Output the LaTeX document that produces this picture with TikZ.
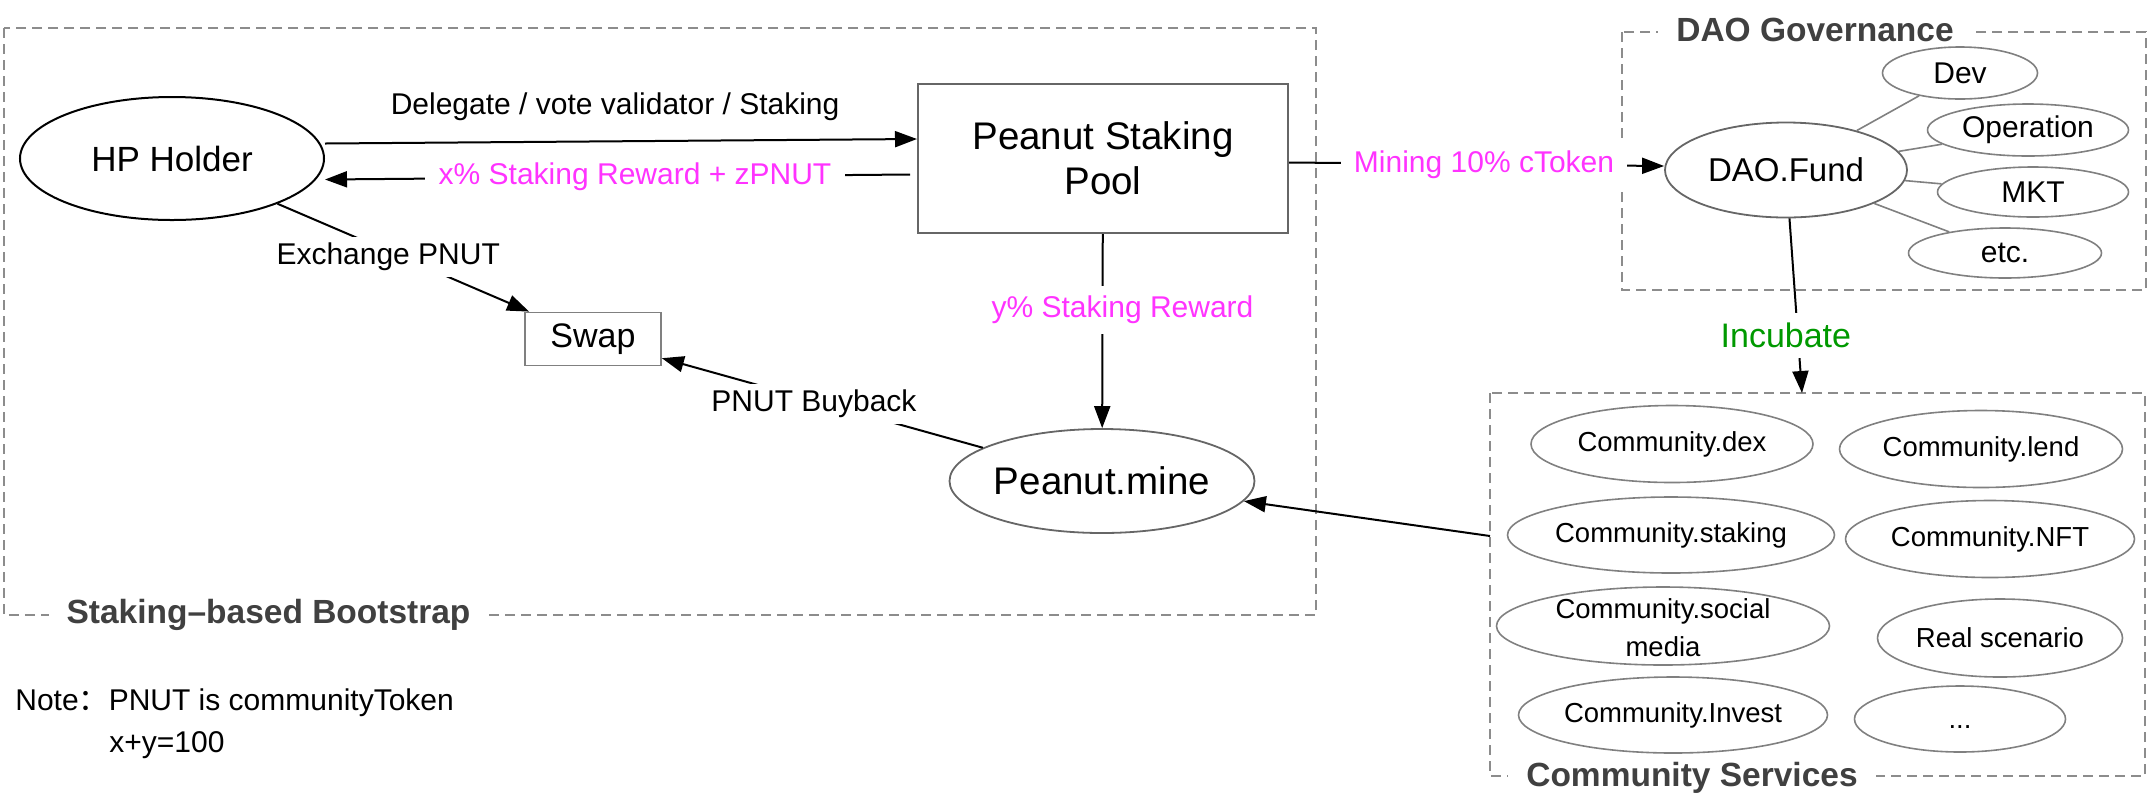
\documentclass[tikz,border=0pt]{standalone}
\usepackage{fontspec}
\setmainfont{Liberation Sans}
\newfontfamily\cjkfont{Noto Sans CJK SC}
\usetikzlibrary{arrows.meta,calc,shapes.geometric}
\definecolor{mag}{HTML}{FF33FF}
\definecolor{grn}{HTML}{009900}
\definecolor{frm}{HTML}{8C8C8C}
\definecolor{ttl}{HTML}{404040}
\definecolor{edg}{HTML}{666666}
\definecolor{lgr}{HTML}{808080}
\newcommand{\zw}[1]{\makebox[0pt]{#1}}
\begin{document}
\begin{tikzpicture}[x=0.5pt,y=-0.5pt,
  arr/.style={draw=black, line width=1pt, -{Triangle[length=11pt,width=8pt]}},
  lbl/.style={font=\fontsize{15}{18}\selectfont, fill=white, inner xsep=7pt, inner ysep=4pt},
  frame/.style={draw=frm, line width=1pt, dash pattern=on 5pt off 3pt},
  gtitle/.style={font=\bfseries\fontsize{16.75}{20}\selectfont, text=ttl, fill=white, inner xsep=9pt, inner ysep=1pt},
  bigell/.style={ellipse, draw=black, line width=1pt, inner sep=0pt},
  mell/.style={ellipse, draw=edg, line width=0.9pt, inner sep=0pt},
  sell/.style={ellipse, draw=lgr, line width=0.8pt, inner sep=0pt, font=\fontsize{15}{18}\selectfont},
  cell/.style={ellipse, draw=lgr, line width=0.8pt, inner sep=0pt, font=\fontsize{13.75}{19}\selectfont},
  gline/.style={draw=lgr, line width=0.8pt},
  notetxt/.style={font=\fontsize{15}{18}\selectfont, inner sep=0pt, anchor=west}
]
\useasboundingbox (0,0) rectangle (2148,805);

% frames
\draw[frame] (4,28) rectangle (1316,615);
\draw[frame] (1622,32) rectangle (2146,290);
\draw[frame] (1490,393) rectangle (2145,776);
\node[gtitle] (tboot) at (268.5,615) {Staking–based Bootstrap};
\node[gtitle] (tdao) at (1815,30) {DAO Governance};
\node[gtitle] (tcomm) at (1692,778) {Community Services};
\coordinate (commtop) at (1802,393);
\coordinate (commleft) at (1490,536);

% main nodes
\node[bigell, minimum width=152pt, minimum height=61.5pt, font=\fontsize{17.5}{21}\selectfont] (hp) at (172,158.5) {\zw{HP Holder}};
\node[draw=edg, line width=1pt, minimum width=185pt, minimum height=74.5pt, align=center, font=\fontsize{19.25}{22.5}\selectfont] (pool) at (1103,158.5) {Peanut Staking\\Pool};
\node[draw=lgr, line width=0.9pt, minimum width=68pt, minimum height=26.5pt, font=\fontsize{17}{20}\selectfont] (swap) at (593,339) {Swap};
\node[mell, minimum width=152.5pt, minimum height=52pt, font=\fontsize{19.25}{22}\selectfont] (mine) at (1102,481) {\zw{Peanut.mine}};
\node[mell, minimum width=121pt, minimum height=47.5pt, font=\fontsize{16.5}{20}\selectfont] (fund) at (1786,170) {\zw{DAO.Fund}};

% DAO children
\node[sell, minimum width=77.5pt, minimum height=26pt] (dev) at (1960,73) {\zw{Dev}};
\node[sell, minimum width=100.5pt, minimum height=26pt] (oper) at (2028,130) {\zw{Operation}};
\node[sell, minimum width=95.5pt, minimum height=25pt] (mkt) at (2033,192) {\zw{MKT}};
\node[sell, minimum width=96.5pt, minimum height=25pt] (etc) at (2005,253) {\zw{etc.}};
\draw[gline] (fund) -- (dev);
\draw[gline] (fund) -- (oper);
\draw[gline] (fund) -- (mkt);
\draw[gline] (fund) -- (etc);

% community services
\node[cell, minimum width=141pt, minimum height=38.5pt] (cdex) at (1672,444) {\zw{Community.dex}};
\node[cell, minimum width=141.5pt, minimum height=38.5pt] (clend) at (1981,449) {\zw{Community.lend}};
\node[cell, minimum width=163.5pt, minimum height=38pt] (cstak) at (1671,535) {\zw{Community.staking}};
\node[cell, minimum width=144.5pt, minimum height=38.5pt] (cnft) at (1990,539) {\zw{Community.NFT}};
\node[cell, minimum width=166.5pt, minimum height=39pt] (csoc) at (1663,626) {};
\node[align=center, inner sep=0pt, font=\fontsize{13.75}{19}\selectfont] (csoctxt) at (1663,628) {Community.social\\media};
\node[cell, minimum width=122.5pt, minimum height=39pt] (creal) at (2000,638) {\zw{Real scenario}};
\node[cell, minimum width=154.5pt, minimum height=38pt] (cinv) at (1673,715) {\zw{Community.Invest}};
\node[cell, minimum width=105.5pt, minimum height=33pt] (cdots) at (1960,719) {\zw{\raisebox{0pt}[0.72em][0pt]{...}}};

% connectors
\draw[arr] ($(hp.east)+(0,-15)$) -- ($(pool.west)+(0,-19.5)$)
  node[pos=0.49, yshift=17.5pt, font=\fontsize{15}{18}\selectfont] (ldel) {Delegate / vote validator / Staking};
\draw[arr] ($(pool.west)+(-7,16)$) -- ($(hp.east)+(0,21)$)
  node[lbl, pos=0.47, text=mag] (lx) {x\% Staking Reward + zPNUT};
\draw[arr] (hp) -- (swap) node[lbl, pos=0.44, yshift=-3pt, inner ysep=3pt] (lex) {Exchange PNUT};
\draw[arr] (mine) -- (swap) node[lbl, pos=0.526, yshift=-1.5pt, inner ysep=3pt] (lbuy) {PNUT Buyback};
\draw[arr] (pool) -- (mine) node[lbl, pos=0.39, xshift=10pt, inner ysep=5pt] (ly) [text=mag] {y\% Staking Reward};
\draw[arr] ($(pool.east)+(0,4)$) -- ($(fund.west)+(0,-4)$) node[lbl, pos=0.52, inner xsep=6.5pt, text=mag] (lmin) {Mining 10\% cToken};
\draw[arr] (fund) -- (commtop) node[lbl, pos=0.67, xshift=-6pt, inner ysep=5pt, text=grn, font=\fontsize{17}{20}\selectfont] (linc) {Incubate};
\draw[arr] (commleft) -- (mine);

% note
\node[notetxt] (note1) at (15,703) {Note{\cjkfont ：}PNUT is communityToken};
\node[notetxt] (note2) at (109,745) {x+y=100};
\end{tikzpicture}
\end{document}
